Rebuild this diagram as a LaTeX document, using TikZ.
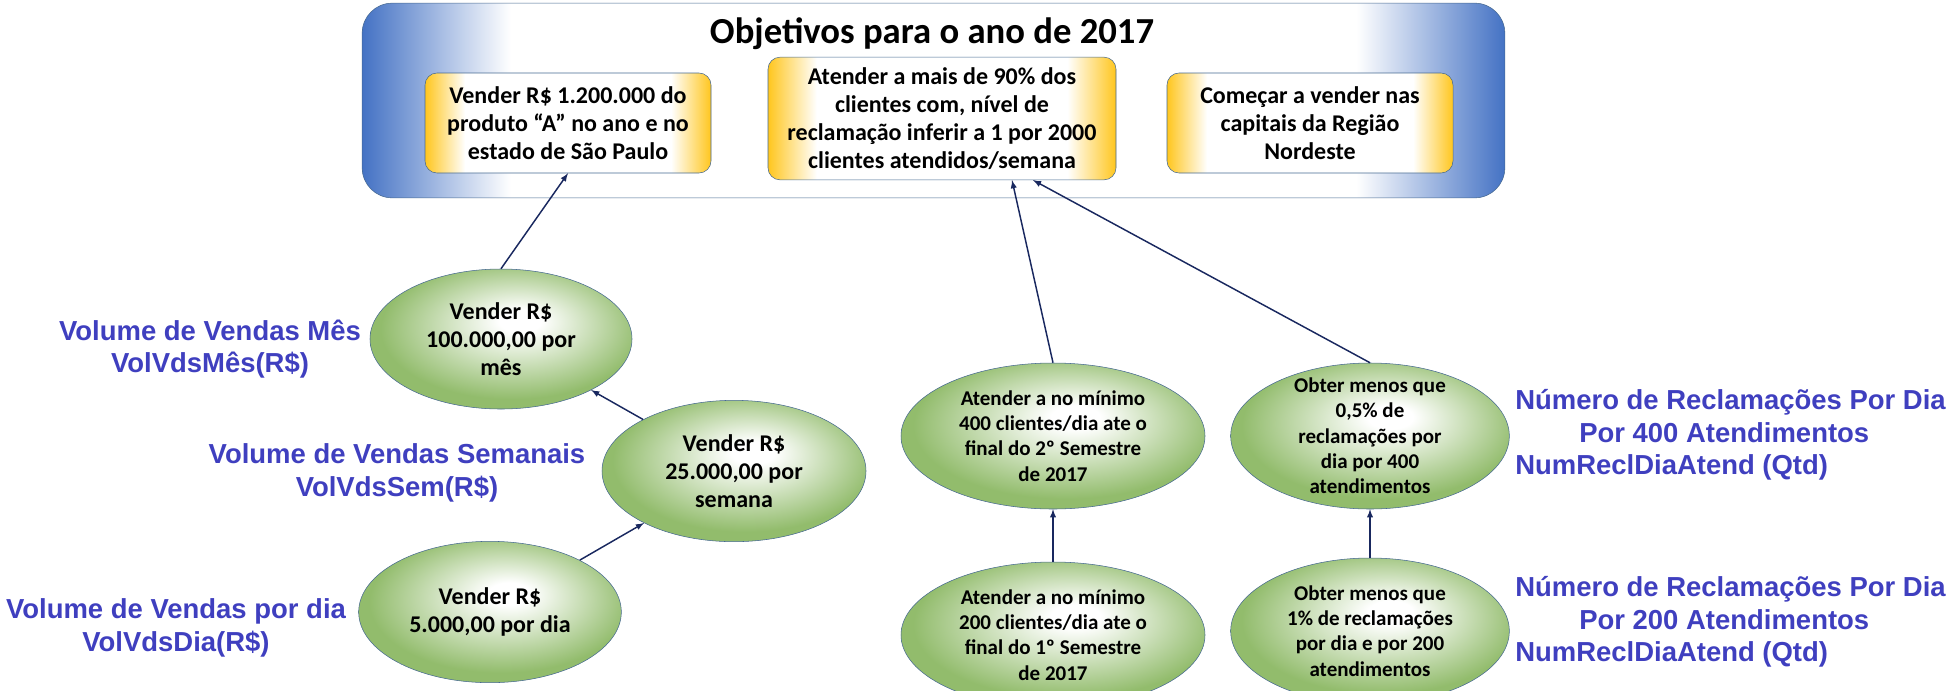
\documentclass[tikz,border=0pt]{standalone}
\usepackage{fontspec}
\setmainfont{Carlito}
\newfontfamily\lblfont{Liberation Sans}
\usetikzlibrary{calc,shapes.geometric,arrows,positioning}

\definecolor{metablue}{RGB}{68,114,196}
\definecolor{metayel}{RGB}{255,198,30}
\definecolor{ellgrn}{RGB}{146,188,108}
\definecolor{edgeblue}{RGB}{70,105,145}
\definecolor{arrnavy}{RGB}{25,40,95}
\definecolor{lblblue}{RGB}{63,63,191}

% the path fills the middle 50bp of each shading
\pgfdeclarehorizontalshading{bluebox}{100bp}{color(0bp)=(metablue); color(25bp)=(metablue); color(31.5bp)=(white); color(68.5bp)=(white); color(75bp)=(metablue); color(100bp)=(metablue)}
\pgfdeclarehorizontalshading{yelbox}{100bp}{color(0bp)=(metayel); color(25bp)=(metayel); color(32bp)=(white); color(68bp)=(white); color(75bp)=(metayel); color(100bp)=(metayel)}
\pgfdeclareradialshading{grnell}{\pgfpoint{4bp}{7bp}}{color(0bp)=(white); color(4bp)=(white); color(25bp)=(ellgrn); color(50bp)=(ellgrn)}

\begin{document}
\begin{tikzpicture}[
  x=0.75pt, y=-0.75pt,
  mybox/.style={
    draw=edgeblue,
    shade,
    shading=yelbox,
    rounded corners=9pt,
    inner sep=0pt,
    align=center,
    font=\bfseries\fontsize{18}{21}\selectfont
    },
  myellipse/.style={
    ellipse,
    draw=edgeblue,
    shade,
    shading=grnell,
    inner sep=0pt,
    align=center,
    font=\bfseries\fontsize{18}{21}\selectfont
    },
  smallell/.style={
    myellipse,
    font=\bfseries\fontsize{15.75}{19}\selectfont
    },
  mylabel/.style={
    inner sep=0pt,
    text=lblblue,
    font=\lblfont\bfseries\fontsize{20.6}{24.4}\selectfont
    },
  myarrow/.style={
    -latex,
    draw=arrnavy,
    line width=1.1pt
    }
]

\useasboundingbox (0,0) rectangle (1960,690);

% objetivos
\node[draw=edgeblue, shade, shading=bluebox, rounded corners=22.5pt,
  minimum width=857pt, minimum height=146pt] (metas) at (933.5,100.5) {};
\node[font=\bfseries\fontsize{27.5}{33}\selectfont] (titulo) at (932,34) {Objetivos para o ano de 2017};

\node[mybox, minimum width=214.5pt, minimum height=75pt] (obj1) at (568,123)
  {Vender R\$ 1.200.000 do\\produto “A” no ano e no\\estado de São Paulo};
\node[mybox, minimum width=261pt, minimum height=92pt] (obj2) at (942,118.5)
  {Atender a mais de 90\% dos\\clientes com, nível de\\reclamação inferir a 1 por 2000\\clientes atendidos/semana};
\node[mybox, minimum width=214.5pt, minimum height=75pt] (obj3) at (1310,123)
  {Começar a vender nas\\capitais da Região\\Nordeste};

% vendas
\node[myellipse, minimum width=196.5pt, minimum height=105pt] (mes) at (501,339)
  {Vender R\$\\100.000,00 por\\mês};
\node[myellipse, minimum width=198pt, minimum height=106pt] (sem) at (734,471)
  {Vender R\$\\25.000,00 por\\semana};
\node[myellipse, minimum width=197pt, minimum height=106pt] (dia) at (490,612)
  {Vender R\$\\5.000,00 por dia};

% atendimentos
\node[smallell, minimum width=228pt, minimum height=109.5pt] (at400) at (1053,436)
  {Atender a no mínimo\\400 clientes/dia ate o\\final do 2º Semestre\\de 2017};
\node[smallell, minimum width=209pt, minimum height=109.5pt, inner ysep=-7pt] (ob05) at (1370,436)
  {Obter menos que\\0,5\% de\\reclamações por\\dia por 400\\atendimentos};
\node[smallell, minimum width=228pt, minimum height=109.5pt] (at200) at (1053,635)
  {Atender a no mínimo\\200 clientes/dia ate o\\final do 1º Semestre\\de 2017};
\node[smallell, minimum width=209pt, minimum height=109.5pt] (ob1) at (1370,631)
  {Obter menos que\\1\% de reclamações\\por dia e por 200\\atendimentos};

\draw[myarrow] (mes.north) -- (obj1.south);
\draw[myarrow] (sem) -- (mes);
\draw[myarrow] (dia) -- (sem);
\draw[myarrow] (at400.north) -- ($(obj2.south)+(70,0)$);
\draw[myarrow] (ob05.north) -- ($(obj2.south)+(91,0)$);
\draw[myarrow] (at200.north) -- (at400.south);
\draw[myarrow] (ob1.north) -- (ob05.south);

% indicadores
\node[mylabel, align=center] (lblmes) at (210,349) {Volume de Vendas Mês\\VolVdsMês(R\$)};
\node[mylabel, align=center] (lblsem) at (397,473) {Volume de Vendas Semanais\\VolVdsSem(R\$)};
\node[mylabel, align=center] (lbldia) at (176,628) {Volume de Vendas por dia\\VolVdsDia(R\$)};
\node[mylabel, align=left, anchor=west] (lbl400) at (1515,435)
  {Número de Reclamações Por Dia\\\hspace*{48pt}Por 400 Atendimentos\\NumReclDiaAtend (Qtd)};
\node[mylabel, align=left, anchor=west] (lbl200) at (1515,622)
  {Número de Reclamações Por Dia\\\hspace*{48pt}Por 200 Atendimentos\\NumReclDiaAtend (Qtd)};

\end{tikzpicture}
\end{document}
